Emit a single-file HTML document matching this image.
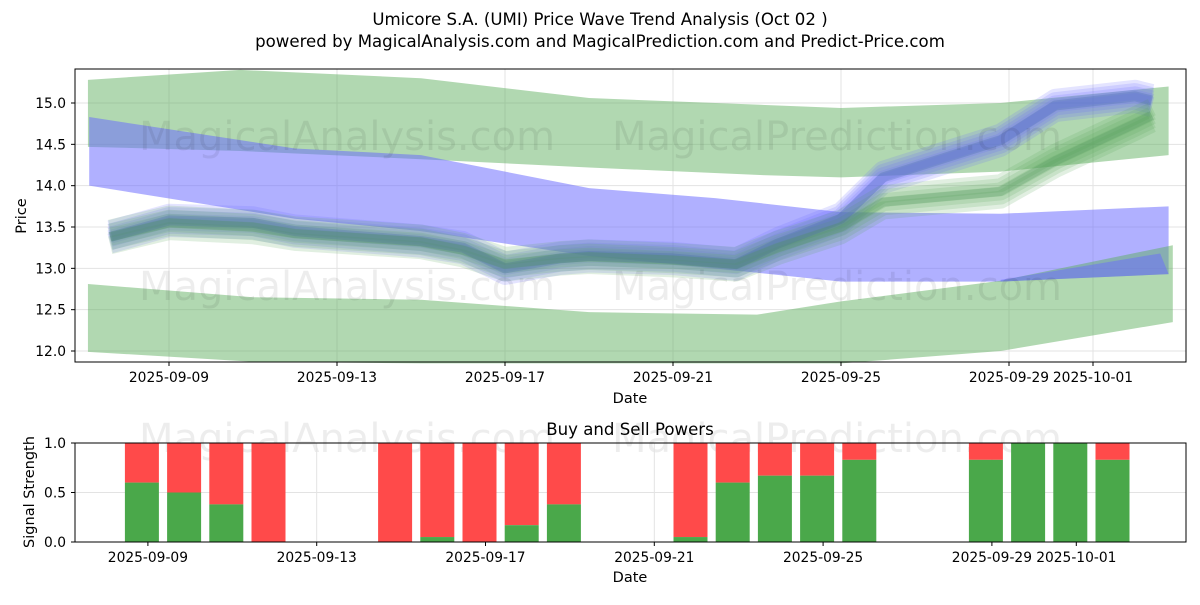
<!DOCTYPE html>
<html><head><meta charset="utf-8"><style>
body{margin:0;background:#fff;font-family:"Liberation Sans","DejaVu Sans",sans-serif}
svg text{font-family:"DejaVu Sans","Liberation Sans",sans-serif}
</style></head><body>
<svg id="chart" width="1200" height="600" xmlns="http://www.w3.org/2000/svg">
<text x="600" y="25" text-anchor="middle" font-size="16.6">Umicore S.A. (UMI) Price Wave Trend Analysis (Oct 02 )</text>
<text x="600" y="47" text-anchor="middle" font-size="16.6">powered by MagicalAnalysis.com and MagicalPrediction.com and Predict-Price.com</text>
<g id="topg"></g><g id="botg"></g>
</svg>
<script>
// ---- data ----
const tickDays=[2,6,10,14,18,22,24];
const tickLabels=["2025-09-09","2025-09-13","2025-09-17","2025-09-21","2025-09-25","2025-09-29","2025-10-01"];
const yTicks=[12.0,12.5,13.0,13.5,14.0,14.5,15.0];
const ugDays=[0.07,3.7,8,12,16,18,21.8,25.8];
const ugTop=[15.28,15.4,15.3,15.06,14.98,14.94,15.0,15.2];
const ugBot=[14.47,14.42,14.32,14.22,14.13,14.1,14.17,14.37];
const ubDays=[0.1,5,8,12,15,18,21.8,25.8];
const ubTop=[14.83,14.45,14.37,13.97,13.85,13.68,13.66,13.75];
const ubBot=[14.0,13.6,13.45,13.15,13.0,12.84,12.84,12.93];
const lgDays=[0.07,4,8,12,16,18,21.8,25.9];
const lgTop=[12.81,12.65,12.62,12.47,12.44,12.6,12.85,13.28];
const lgBot=[11.99,11.87,11.85,11.85,11.85,11.85,12.0,12.35];
const lbDays=[21.8,25.6,25.8];
const lbTop=[12.86,13.18,12.93];
const waveDays=[0.6,2,4,5,8,9,10,11.3,12,14,15.5,16.5,18,19,21.8,23.1,25,25.4];
const waveBlue=[13.38,13.58,13.55,13.45,13.33,13.25,13.0,13.12,13.15,13.12,13.05,13.3,13.6,14.1,14.55,14.97,15.08,15.03];
const waveGreen=[13.38,13.55,13.5,13.42,13.32,13.22,13.05,13.12,13.14,13.1,13.05,13.25,13.5,13.8,13.93,14.3,14.75,14.85];
const barDays=[2,3,4,5,8,9,10,11,12,15,16,17,18,19,22,23,24,25];
const buyVals=[0.6,0.5,0.38,0,0,0.05,0,0.17,0.38,0.05,0.6,0.67,0.67,0.83,0.83,1.0,1.0,0.83];

const NS="http://www.w3.org/2000/svg";
function mk(p,t,a){const e=document.createElementNS(NS,t);for(const k in a)e.setAttribute(k,a[k]);p.appendChild(e);return e;}
const topG=document.getElementById('topg'),botG=document.getElementById('botg');
const X=d=>85+42*d, Y=v=>103+(15-v)*82.67;
const XB=d=>63.5+42.2*d, YB=v=>542-99*v;

tickDays.forEach((d,i)=>{const l=mk(topG,'line',{x1:X(d),x2:X(d),y1:69,y2:362,stroke:'#e3e3e3'});

});
yTicks.forEach(v=>{const l=mk(topG,'line',{x1:75,x2:1186,y1:Y(v),y2:Y(v),stroke:'#e3e3e3'});

});
function band(days,a,b,fill,op,name){let pts=days.map((d,i)=>X(d)+','+Y(a[i]));
 for(let i=days.length-1;i>=0;i--)pts.push(X(days[i])+','+Y(b[i]));
 const p=mk(topG,'polygon',{points:pts.join(' '),fill:fill,'fill-opacity':op});
 
 }
band(ugDays,ugTop,ugBot,'#5aac5a',0.47,'upper-green-band');
band(ubDays,ubTop,ubBot,'#6a6aff',0.53,'upper-blue-band');
band(lgDays,lgTop,lgBot,'#5aac5a',0.47,'lower-green-band');
{const pts=[X(lbDays[0])+','+Y(lbTop[0]),X(lbDays[1])+','+Y(lbTop[1]),X(lbDays[2])+','+Y(lbTop[2]),X(lbDays[0])+','+Y(12.84)];
 const p=mk(topG,'polygon',{points:pts.join(' '),fill:'#6a6aff','fill-opacity':0.5});
 
 }
function wave(vals,col,off,w,op,name){const pts=waveDays.map((d,i)=>X(d)+','+Y(vals[i]+off)).join(' ');
 const p=mk(topG,'polyline',{points:pts,fill:'none',stroke:col,'stroke-width':w,'stroke-opacity':op,'stroke-linejoin':'round'});
 
 }
[-0.08,0.08,0,-0.04,0.04].forEach(o=>wave(waveBlue,'#6a6aff',o,20,0.18,'blue-wave'));
[-0.1,0.1,0,-0.05,0.05].forEach(o=>wave(waveGreen,'#5aa55a',o,18,0.18,'green-wave'));
wave(waveBlue,'#4a6ab0',0,10,0.3,'blue-wave-core');
wave(waveGreen,'#4a8f5a',0,9,0.25,'green-wave-core');
mk(topG,'rect',{x:75,y:69,width:1111,height:293,fill:'none',stroke:'#000','stroke-width':1});
tickDays.forEach((d,i)=>{mk(topG,'line',{x1:X(d),x2:X(d),y1:362,y2:366,stroke:'#000'});
 const t=mk(topG,'text',{x:X(d),y:382,'text-anchor':'middle','font-size':13.8});t.textContent=tickLabels[i];
 
 });
yTicks.forEach(v=>{mk(topG,'line',{x1:71,x2:75,y1:Y(v),y2:Y(v),stroke:'#000'});
 const t=mk(topG,'text',{x:66,y:Y(v)+5,'text-anchor':'end','font-size':13.8});t.textContent=v.toFixed(1);
 
 });
let t=mk(topG,'text',{x:630,y:403,'text-anchor':'middle','font-size':14.5});t.textContent='Date';


t=mk(topG,'text',{x:26,y:216,'text-anchor':'middle','font-size':14.5,transform:'rotate(-90 26 216)'});t.textContent='Price';


[[347,150,'MagicalAnalysis.com'],[837,150,'MagicalPrediction.com'],[347,300,'MagicalAnalysis.com'],[837,300,'MagicalPrediction.com'],[347,452,'MagicalAnalysis.com'],[837,452,'MagicalPrediction.com']].forEach(w=>{
 const e=mk(topG,'text',{x:w[0],y:w[1],'text-anchor':'middle','font-size':40,fill:'#000','fill-opacity':0.07});e.textContent=w[2];
 
 });

t=mk(botG,'text',{x:630,y:435,'text-anchor':'middle','font-size':16.6});t.textContent='Buy and Sell Powers';


[0,0.5,1].forEach(v=>{const l=mk(botG,'line',{x1:75,x2:1186,y1:YB(v),y2:YB(v),stroke:'#e3e3e3'});
 
 });
tickDays.forEach(d=>{const l=mk(botG,'line',{x1:XB(d),x2:XB(d),y1:443,y2:542,stroke:'#e3e3e3'});
 
 });
barDays.forEach((d,i)=>{const cx=XB(d)-6;
 const r=mk(botG,'rect',{x:cx-17,y:YB(1),width:34,height:YB(buyVals[i])-YB(1),fill:'#ff4a4a'});
 
 
 const g=mk(botG,'rect',{x:cx-17,y:YB(buyVals[i]),width:34,height:YB(0)-YB(buyVals[i]),fill:'#4aa84a'});
 
 });
mk(botG,'rect',{x:75,y:443,width:1111,height:99,fill:'none',stroke:'#000'});
tickDays.forEach((d,i)=>{mk(botG,'line',{x1:XB(d),x2:XB(d),y1:542,y2:546,stroke:'#000'});
 const e=mk(botG,'text',{x:XB(d),y:562,'text-anchor':'middle','font-size':13.8});e.textContent=tickLabels[i];
 
 });
[0,0.5,1].forEach(v=>{mk(botG,'line',{x1:71,x2:75,y1:YB(v),y2:YB(v),stroke:'#000'});
 const e=mk(botG,'text',{x:66,y:YB(v)+5,'text-anchor':'end','font-size':13.8});e.textContent=v.toFixed(1);
 
 });
t=mk(botG,'text',{x:630,y:582,'text-anchor':'middle','font-size':14.5});t.textContent='Date';


t=mk(botG,'text',{x:34,y:492,'text-anchor':'middle','font-size':14.5,transform:'rotate(-90 34 492)'});t.textContent='Signal Strength';


</script>
</body></html>
